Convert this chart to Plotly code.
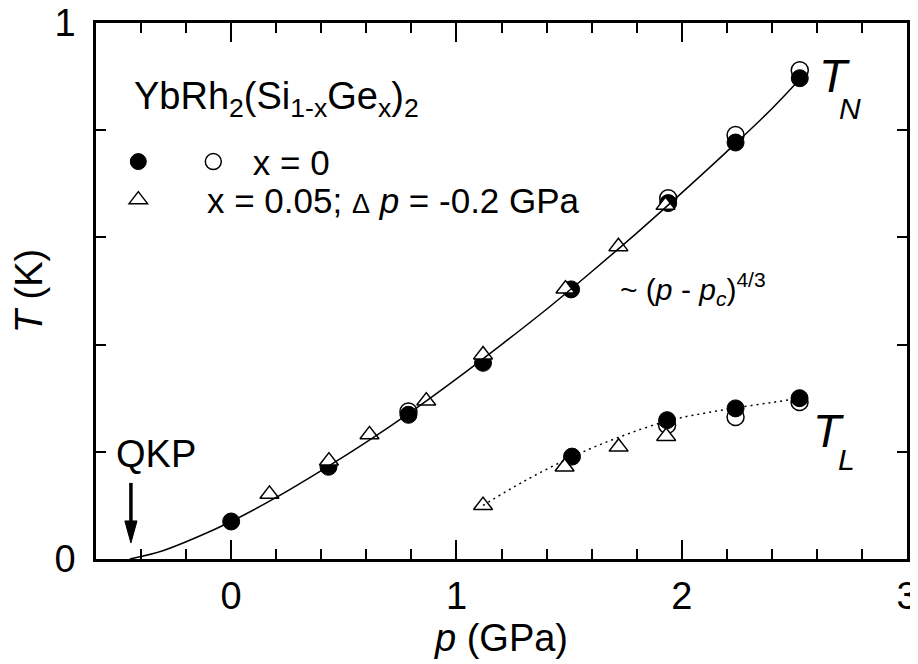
import plotly.graph_objects as go

FONT = "Liberation Sans, Arial, sans-serif"

# ---- data ----
# T_N, x = 0 (filled circles)
tn_fill_p = [0.0, 0.432, 0.787, 1.118, 1.509, 1.940, 2.239, 2.524]
tn_fill_T = [0.070, 0.172, 0.269, 0.366, 0.503, 0.664, 0.777, 0.897]
# T_N, x = 0 (open circles)
tn_open_p = [0.787, 1.940, 2.239, 2.524]
tn_open_T = [0.275, 0.673, 0.791, 0.912]
# T_N, x = 0.05 shifted (triangles)
tn_tri_p = [0.170, 0.434, 0.614, 0.866, 1.118, 1.484, 1.719, 1.928]
tn_tri_T = [0.121, 0.183, 0.232, 0.295, 0.381, 0.504, 0.583, 0.660]

# T_L, x = 0 (filled circles)
tl_fill_p = [1.513, 1.935, 2.239, 2.523]
tl_fill_T = [0.191, 0.259, 0.281, 0.300]
# T_L, x = 0 (open circles)
tl_open_p = [1.935, 2.239, 2.523]
tl_open_T = [0.250, 0.265, 0.293]
# T_L, x = 0.05 shifted (triangles)
tl_tri_p = [1.118, 1.480, 1.720, 1.931]
tl_tri_T = [0.100, 0.172, 0.209, 0.229]

# fit curve ~ (p - pc)^(4/3)
fit_p = [-0.45, -0.3, -0.15, 0.0, 0.2, 0.4, 0.6, 0.8, 1.0, 1.2, 1.4, 1.6, 1.8, 2.0, 2.2, 2.4, 2.52]
fit_T = [0.0, 0.016, 0.041, 0.070, 0.115, 0.165, 0.218, 0.275, 0.336, 0.400, 0.466,
         0.536, 0.608, 0.683, 0.760, 0.840, 0.893]
# dotted guide for T_L
tl_line_p = [1.118, 1.30, 1.51, 1.72, 1.94, 2.10, 2.24, 2.40, 2.523]
tl_line_T = [0.100, 0.145, 0.190, 0.227, 0.258, 0.272, 0.282, 0.292, 0.300]

qkp_p = -0.445  # quantum critical point (arrow)

x_ticks = [0, 1, 2, 3]
y_ticks = [0, 1]

NB = "\u00a0"

fig = go.Figure()

fig.add_trace(go.Scatter(
    x=tn_open_p + tl_open_p, y=tn_open_T + tl_open_T, mode="markers",
    marker=dict(symbol="circle", size=17, color="white", line=dict(color="black", width=1.5)),
    name=NB * 2 + "x = 0", legend="legend", legendrank=2))
fig.add_trace(go.Scatter(
    x=tn_fill_p + tl_fill_p, y=tn_fill_T + tl_fill_T, mode="markers",
    marker=dict(symbol="circle", size=17, color="black", line=dict(color="black", width=1)),
    name="", legend="legend", legendrank=1, legendwidth=30))
fig.add_trace(go.Scatter(
    x=tn_tri_p + tl_tri_p, y=tn_tri_T + tl_tri_T, mode="markers",
    marker=dict(symbol="triangle-up", size=16.5, color="white", line=dict(color="black", width=1.5)),
    name=NB * 5 + "x = 0.05; <span style='font-size:27px'>\u0394</span> <i>p</i> = -0.2 GPa",
    legend="legend2"))
fig.add_trace(go.Scatter(
    x=fit_p, y=fit_T, mode="lines", line=dict(color="black", width=1.5, shape="spline"),
    showlegend=False, hoverinfo="skip"))
fig.add_trace(go.Scatter(
    x=tl_line_p, y=tl_line_T, mode="lines",
    line=dict(color="black", width=1.5, shape="spline", dash="2px,4px"),
    showlegend=False, hoverinfo="skip"))

axis_common = dict(
    showgrid=False, zeroline=False, showline=True, linecolor="black", linewidth=2.5,
    mirror="allticks", ticks="inside", ticklen=19, tickwidth=2, tickcolor="black",
    tickfont=dict(family=FONT, size=38, color="black"), automargin=False,
    ticklabeloverflow="allow",
)

fig.update_xaxes(
    range=[-0.6, 3.0], tickvals=x_ticks, ticktext=[str(v) for v in x_ticks],
    minor=dict(dtick=0.2, tick0=0, ticks="inside", ticklen=10, tickwidth=2, tickcolor="black"),
    ticklabelstandoff=2,
    title=dict(text="<i>p</i> (GPa)", font=dict(family=FONT, size=38, color="black"), standoff=0),
    **axis_common)
fig.update_yaxes(
    range=[0, 1], tickvals=y_ticks, ticktext=[str(v) for v in y_ticks],
    minor=dict(dtick=0.2, tick0=0, ticks="inside", ticklen=10, tickwidth=2, tickcolor="black"),
    ticklabelstandoff=10,
    title=dict(text="<i>T</i> (K)", font=dict(family=FONT, size=38, color="black"), standoff=1),
    **axis_common)

ann_font = dict(family=FONT, color="black")
annotations = [
    dict(x=-0.44, y=0.858, text="YbRh<sub>2</sub>(Si<sub>1-x</sub>Ge<sub>x</sub>)<sub>2</sub>",
         font=dict(size=38, **ann_font)),
    dict(x=2.600, y=0.901, text="<i>T</i>", font=dict(size=46, **ann_font)),
    dict(x=2.690, y=0.840, text="<i>N</i>", font=dict(size=30, **ann_font)),
    dict(x=2.572, y=0.238, text="<i>T</i>", font=dict(size=46, **ann_font)),
    dict(x=2.687, y=0.186, text="<i>L</i>", font=dict(size=30, **ann_font)),
    dict(x=1.719, y=0.503, text="~ (<i>p</i> - <i>p</i><sub><i>c</i></sub>)<sup>4/3</sup>",
         font=dict(size=30, **ann_font)),
    dict(x=-0.522, y=0.195, text="QKP", font=dict(size=38, **ann_font)),
]
for a in annotations:
    a.update(xref="x", yref="y", xanchor="left", yanchor="middle", showarrow=False)

shapes = [
    dict(type="line", xref="x", yref="y", x0=qkp_p, x1=qkp_p, y0=0.142, y1=0.066,
         line=dict(color="black", width=3.5)),
    dict(type="path", xref="x", yref="y",
         path=f"M {qkp_p - 0.027},0.071 L {qkp_p + 0.027},0.071 L {qkp_p},0.030 Z",
         fillcolor="black", line=dict(color="black", width=1)),
]

# the page body has an 8px margin, so the figure is drawn 8px in from the corner
fig.update_layout(
    width=910, height=656,
    margin=dict(l=88, r=11, t=15, b=105, autoexpand=False),
    paper_bgcolor="white", plot_bgcolor="white",
    font=dict(family=FONT, color="black"),
    annotations=annotations, shapes=shapes,
    legend=dict(orientation="h", x=0.0275, y=0.741, xanchor="left", yanchor="middle",
                bgcolor="rgba(0,0,0,0)", borderwidth=0,
                font=dict(family=FONT, size=35, color="black"), itemclick=False),
    legend2=dict(orientation="h", x=0.0275, y=0.670, xanchor="left", yanchor="middle",
                 bgcolor="rgba(0,0,0,0)", borderwidth=0,
                 font=dict(family=FONT, size=35, color="black"), itemclick=False),
    showlegend=True,
)

fig.write_html("out.html")
